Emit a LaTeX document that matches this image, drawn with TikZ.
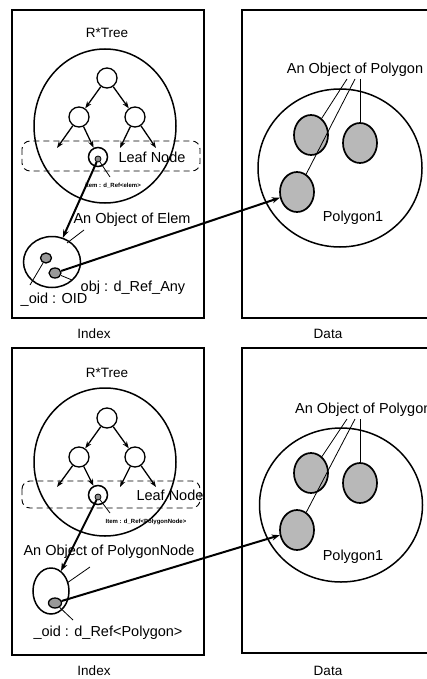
\documentclass[tikz,border=0pt]{standalone}
\usepackage{fontspec}
\setmainfont{Liberation Sans}
\usetikzlibrary{arrows.meta,shapes.geometric}
\begin{document}
\begin{tikzpicture}[x=1pt,y=-1pt,
  panel/.style={draw,line width=1.6pt},
  bigell/.style={draw,ellipse,line width=1.5pt,inner sep=0},
  tn/.style={draw,circle,line width=1.3pt,minimum size=20pt,inner sep=0},
  leafc/.style={draw,circle,line width=1.5pt,minimum size=19pt,inner sep=0},
  ldotc/.style={draw,circle,fill=black!45,line width=0.8pt,minimum size=6pt,inner sep=0},
  dotc/.style={draw,ellipse,fill=black!40,line width=1.3pt,inner sep=0},
  polyc/.style={draw,ellipse,fill=black!28,line width=1.7pt,inner sep=0,minimum width=34pt,minimum height=40pt},
  tarr/.style={-{Stealth[length=7pt,width=5pt]},line width=1.3pt},
  thick/.style={-{Stealth[length=8pt,width=6pt]},line width=2pt},
  thin/.style={line width=0.8pt},
  lbl/.style={font=\fontsize{14.5}{16}\selectfont,inner sep=0},
  ttl/.style={font=\fontsize{13.5}{15}\selectfont,inner sep=0},
  tiny/.style={font=\fontsize{6}{7}\selectfont\bfseries,inner sep=0},
  leafbox/.style={draw,line width=0.9pt,rounded corners=8pt,dash pattern=on 6pt off 4pt}
]
\useasboundingbox (0,0) rectangle (426,679);

% ===================== TOP PANEL =====================
\draw[panel] (12,10) rectangle (204,318);
\draw[panel] (242,10) rectangle (440,318);
\node[ttl] (idx1) at (94,334) {Index};
\node[ttl] (dat1) at (328,334) {Data};

\node[ttl] (rt1) at (107,33) {R*Tree};
\node[bigell,minimum width=142pt,minimum height=154pt] (tree1) at (105,126) {};
\node[tn] (r1) at (107,78) {};
\node[tn] (lc1) at (79,117) {};
\node[tn] (rc1) at (135,117) {};
\coordinate (a11) at (57,148);
\coordinate (a13) at (120,148);
\coordinate (a14) at (156,148);
\node[leafc] (leaf1) at (98,157) {};
\node[ldotc] (ld1) at (98,159) {};
\draw[leafbox] (22,141) rectangle (200,171);
\node[lbl] (ln1) at (152,157) {Leaf Node};
\draw[tarr] (r1) -- (lc1);
\draw[tarr] (r1) -- (rc1);
\draw[tarr] (lc1) -- (a11);
\draw[tarr] (lc1) -- (leaf1);
\draw[tarr] (rc1) -- (a13);
\draw[tarr] (rc1) -- (a14);
\node[tiny] (it1) at (113,186) {item : d\_Ref<elem>};
\coordinate (it1p) at (110,177);
\draw[thin] (ld1) -- (it1p);

\node[draw,ellipse,line width=1.5pt,inner sep=0,minimum width=57pt,minimum height=51pt] (obj1) at (52,262) {};
\draw[thick] (ld1) -- (obj1);
\node[lbl] (ol1) at (132,220) {An Object of Elem};
\coordinate (ol1a) at (84,230);
\coordinate (ol1b) at (67,243);
\draw[thin] (ol1a) -- (ol1b);
\node[dotc,minimum width=11pt,minimum height=10pt] (d11) at (46,258) {};
\node[dotc,minimum width=12pt,minimum height=10pt] (d12) at (55,273) {};
\node[lbl] (oid1) at (54,300) {\_oid : OID};
\node[lbl] (obj1l) at (133,288) {obj : d\_Ref\_Any};
\coordinate (d11p) at (30,285);
\coordinate (d12p) at (72,280);
\draw[thin] (d11) -- (d11p);
\draw[thin] (d12) -- (d12p);

\node[bigell,minimum width=164pt,minimum height=158pt] (poly1) at (340,168) {};
\node[polyc] (e11) at (311,135) {};
\node[polyc] (e12) at (360,143) {};
\node[polyc] (e13) at (297,192) {};
\node[lbl] (aop1) at (355,70) {An Object of Polygon};
\coordinate (p11) at (347,79);
\coordinate (p12) at (355,79);
\coordinate (p13) at (360,79);
\draw[thin] (p11) -- (e11);
\draw[thin] (p12) -- (e13);
\draw[thin] (p13) -- (e12);
\node[lbl] (pg1) at (353,218) {Polygon1};
\draw[thick] (d12) -- (e13);

% ===================== BOTTOM PANEL =====================
\draw[panel] (12,348) rectangle (204,655);
\draw[panel] (242,348) rectangle (440,653);
\node[ttl] (idx2) at (94,671) {Index};
\node[ttl] (dat2) at (328,671) {Data};

\node[ttl] (rt2) at (107,373) {R*Tree};
\node[bigell,minimum width=142pt,minimum height=148pt] (tree2) at (105,462) {};
\node[tn] (r2) at (107,418) {};
\node[tn] (lc2) at (79,457) {};
\node[tn] (rc2) at (135,457) {};
\coordinate (a21) at (57,487);
\coordinate (a23) at (120,487);
\coordinate (a24) at (156,487);
\node[leafc] (leaf2) at (98,495) {};
\node[ldotc] (ld2) at (98,497) {};
\draw[leafbox] (22,481) rectangle (200,508);
\node[lbl] (ln2) at (170,495) {Leaf Node};
\draw[tarr] (r2) -- (lc2);
\draw[tarr] (r2) -- (rc2);
\draw[tarr] (lc2) -- (a21);
\draw[tarr] (lc2) -- (leaf2);
\draw[tarr] (rc2) -- (a23);
\draw[tarr] (rc2) -- (a24);
\node[tiny] (it2) at (146,522) {Item : d\_Ref<PolygonNode>};
\coordinate (it2p) at (110,513);
\draw[thin] (ld2) -- (it2p);

\node[draw,ellipse,line width=1.5pt,inner sep=0,minimum width=36pt,minimum height=46pt] (obj2) at (51,591) {};
\draw[thick] (ld2) -- (obj2);
\node[lbl] (ol2) at (109,552) {An Object of PolygonNode};
\coordinate (ol2a) at (90,567);
\coordinate (ol2b) at (67,583);
\draw[thin] (ol2a) -- (ol2b);
\node[dotc,minimum width=13pt,minimum height=10pt] (d21) at (55,603) {};
\node[lbl] (oid2) at (108,633) {\_oid : d\_Ref<Polygon>};
\coordinate (d21p) at (73,620);
\draw[thin] (d21) -- (d21p);

\node[bigell,minimum width=163pt,minimum height=154pt] (poly2) at (341,505) {};
\node[polyc] (e21) at (311,473) {};
\node[polyc] (e22) at (360,483) {};
\node[polyc] (e23) at (297,530) {};
\node[lbl,anchor=west] (aop2) at (295,410) {An Object of Polygon};
\coordinate (p21) at (347,419);
\coordinate (p22) at (355,419);
\coordinate (p23) at (360,419);
\draw[thin] (p21) -- (e21);
\draw[thin] (p22) -- (e23);
\draw[thin] (p23) -- (e22);
\node[lbl] (pg2) at (353,557) {Polygon1};
\draw[thick] (d21) -- (e23);
\end{tikzpicture}
\end{document}
